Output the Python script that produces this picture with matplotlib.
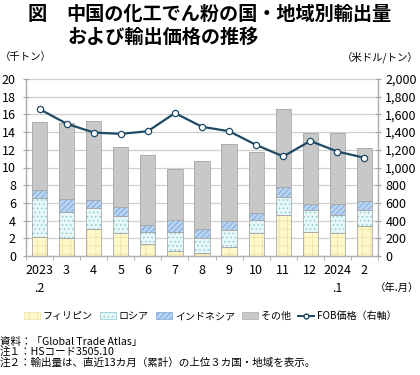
import matplotlib
matplotlib.use("Agg")
import matplotlib.pyplot as plt
import numpy as np
from matplotlib.lines import Line2D
from matplotlib.patches import Patch

plt.rcParams['font.family'] = ['Noto Sans CJK JP', 'DejaVu Sans']
plt.rcParams['hatch.linewidth'] = 0.6

categories = ["2023\n.2", "3", "4", "5", "6", "7", "8", "9", "10", "11", "12", "2024\n.1", "2"]
philippines = [2.15, 2.0, 3.1, 2.55, 1.35, 0.6, 0.3, 1.05, 2.55, 4.6, 2.7, 2.6, 3.35]
russia_top = [6.55, 4.95, 5.45, 4.5, 2.7, 2.7, 2.0, 2.9, 4.05, 6.65, 5.15, 4.65, 5.15]
indonesia_top = [7.5, 6.45, 6.35, 5.5, 3.55, 4.1, 3.0, 4.0, 4.9, 7.8, 5.9, 5.9, 6.25]
total = [15.1, 15.0, 15.3, 12.35, 11.4, 9.8, 10.75, 12.7, 11.7, 16.65, 13.9, 13.9, 12.2]
fob = [1660, 1495, 1395, 1380, 1410, 1615, 1460, 1410, 1255, 1125, 1300, 1180, 1110]

russia = [r - p for r, p in zip(russia_top, philippines)]
indonesia = [i - r for i, r in zip(indonesia_top, russia_top)]
others = [t - i for t, i in zip(total, indonesia_top)]

fig = plt.figure(figsize=(4.2, 3.75), dpi=100)
ax = fig.add_axes([26/420, 1-256/375, (378-26)/420, (256-79)/375])
ax2 = ax.twinx()

x = np.arange(len(categories))
w = 0.56
segs = [
    (philippines, np.zeros(len(x)), '#FFF8C8', '#ECE2A8', '++'),
    (russia, np.array(philippines), '#E8F7F7', '#86CCD4', '....'),
    (indonesia, np.array(russia_top), '#B8D4F0', '#78A4D8', '//////'),
    (others, np.array(indonesia_top), '#C8C8C8', None, None),
]
for vals, bottom, fc, hc, hatch in segs:
    if hatch:
        ax.bar(x, vals, w, bottom=bottom, color=fc, edgecolor=hc, hatch=hatch, linewidth=0, zorder=2)
    else:
        ax.bar(x, vals, w, bottom=bottom, color=fc, linewidth=0, zorder=2)
    ax.bar(x, vals, w, bottom=bottom, fill=False, edgecolor='#A8A8A8', linewidth=0.6, zorder=3)

ax.set_ylim(0, 20)
ax.set_xlim(-0.5, len(x) - 0.5)
ax.set_yticks(np.arange(0, 21, 2))
ax.set_xticks(x)
ax.set_xticklabels(categories, fontsize=9, linespacing=1.45)
ax.set_xticks(np.arange(-0.5, len(x), 1), minor=True)
ax.tick_params(axis='x', which='major', length=0, pad=6)
ax.tick_params(axis='x', which='minor', length=3, color='#A0A0A0', direction='out')
ax.tick_params(axis='y', length=4.5, direction='inout', color='#A0A0A0', labelsize=9, pad=5)
ax.yaxis.grid(True, color='#D0D0D0', linewidth=0.9, zorder=0)
ax.set_axisbelow(True)

ax2.plot(x, fob, color='#1F4A66', linewidth=1.6, marker='o', markersize=4.5,
         markerfacecolor='white', markeredgecolor='#1F4A66', markeredgewidth=0.9, zorder=5)
ax2.set_ylim(0, 2000)
ax2.set_yticks(np.arange(0, 2001, 200))
ax2.set_yticklabels([f"{v:,}" for v in range(0, 2001, 200)])
ax2.tick_params(axis='y', length=4.5, direction='inout', color='#A0A0A0', labelsize=9, pad=3)

for a in (ax, ax2):
    a.spines['top'].set_visible(False)
    for s in ['left', 'right', 'bottom']:
        a.spines[s].set_color('#B0B0B0')
        a.spines[s].set_linewidth(0.9)

fig.text(28/420, 1-14/375, "図", fontsize=13.8, fontweight='bold', va='center', ha='left')
fig.text(66/420, 1-14/375, "中国の化工でん粉の国・地域別輸出量", fontsize=13.8, fontweight='bold', va='center', ha='left')
fig.text(67/420, 1-37/375, "および輸出価格の推移", fontsize=13.8, fontweight='bold', va='center', ha='left')

fig.text(0/420, 1-57/375, "（千トン）", fontsize=7.5, va='center', ha='left')
fig.text(419/420, 1-57/375, "（米ドル/トン）", fontsize=7.5, va='center', ha='right')
fig.text(419/420, 1-288/375, "（年.月）", fontsize=7.5, va='center', ha='right')

handles = [
    Patch(facecolor='#FFF8C8', edgecolor='#ECE2A8', hatch='++', linewidth=0.5),
    Patch(facecolor='#E8F7F7', edgecolor='#86CCD4', hatch='....', linewidth=0.5),
    Patch(facecolor='#B8D4F0', edgecolor='#78A4D8', hatch='//////', linewidth=0.5),
    Patch(facecolor='#C8C8C8', edgecolor='#A8A8A8', linewidth=0.5),
    Line2D([0], [0], color='#1F4A66', linewidth=1.4, marker='o', markersize=3.5,
           markerfacecolor='white', markeredgecolor='#1F4A66'),
]
labels = ["フィリピン", "ロシア", "インドネシア", "その他", "FOB価格（右軸）"]
fig.legend(handles, labels, loc='center', bbox_to_anchor=(0.5, 1-316/375), ncol=5,
           frameon=False, fontsize=7.2, handlelength=1.6, handleheight=0.6,
           columnspacing=0.7, handletextpad=0.3)

fig.text(0, 1-341.5/375, "資料：「Global Trade Atlas」", fontsize=7.6, va='center', ha='left')
fig.text(0, 1-352/375, "注１：HSコード3505.10", fontsize=7.6, va='center', ha='left')
fig.text(0, 1-362.5/375, "注２：輸出量は、直近13カ月（累計）の上位３カ国・地域を表示。", fontsize=7.6, va='center', ha='left')

fig.savefig("out.png", dpi=100)
